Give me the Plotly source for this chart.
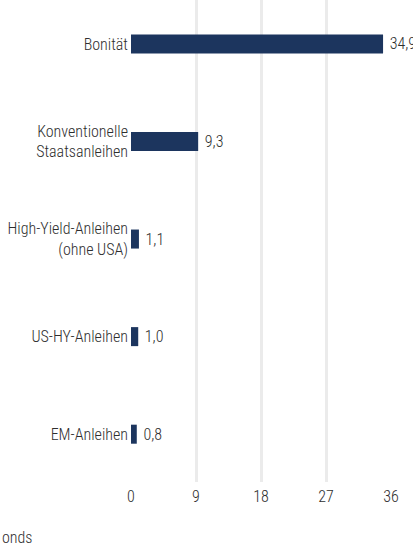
import plotly.graph_objects as go

categories = ["Bonität", "Konventionelle<br>Staatsanleihen", "High-Yield-Anleihen<br>(ohne USA)", "US-HY-Anleihen", "EM-Anleihen"]
values = [34.9, 9.3, 1.1, 1.0, 0.8]
x_ticks = [0, 9, 18, 27, 36]
note_text = "onds"

FONT = "'Roboto Condensed', 'DejaVu Sans Condensed', 'Liberation Sans Narrow', 'Arial Narrow', Roboto, sans-serif"
TXT = "#2e2e2e"
W = 300


def f(size=16):
    return dict(family=FONT, size=size, color=TXT, weight=W)


fig = go.Figure(go.Bar(
    y=list(range(len(categories))),
    x=values,
    orientation="h",
    width=0.195,
    marker=dict(color="#1c355e", line=dict(width=0)),
    texttemplate=" %{x:.1f}",
    textposition="outside",
    cliponaxis=False,
    textfont=f(),
    hoverinfo="skip",
))

fig.update_layout(
    width=413, height=554,
    margin=dict(l=131, r=22, t=0, b=72, autoexpand=False),
    paper_bgcolor="white", plot_bgcolor="white",
    separators=",.",
    showlegend=False,
    font=f(),
    xaxis=dict(range=[0, 36], tickvals=x_ticks, ticktext=[str(t) for t in x_ticks],
               showgrid=True, gridcolor="#ebebeb", gridwidth=2.5, zeroline=False,
               showline=False, ticks="", automargin=False, ticklabelstandoff=3,
               tickfont=f()),
    yaxis=dict(range=[4.49, -0.45], tickvals=list(range(len(categories))), ticktext=categories,
               showgrid=False, zeroline=False, showline=False, ticks="",
               automargin=False, ticklabelstandoff=2,
               tickfont=f()),
    annotations=[dict(text=note_text, xref="paper", yref="paper", x=-131/260, y=-0.115,
                      xanchor="left", yanchor="middle", showarrow=False,
                      font=f())],
)

fig.write_html("out.html", config={"displayModeBar": False},
               post_script="document.body.style.margin='0';document.body.style.overflow='hidden';")
